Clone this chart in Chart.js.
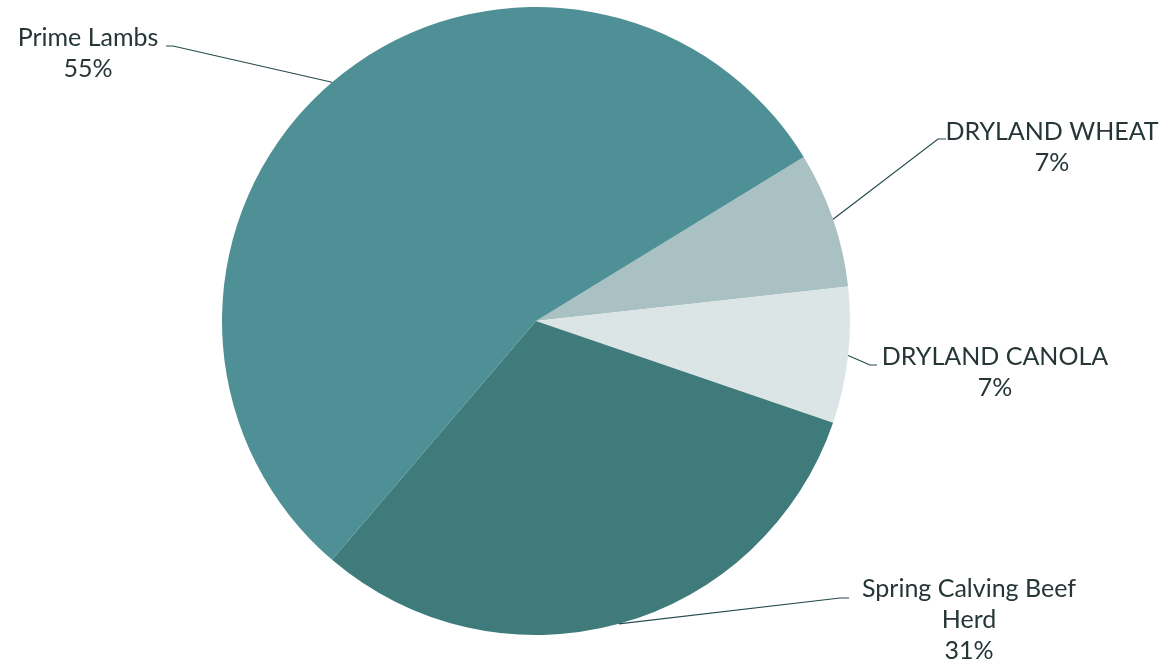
<!DOCTYPE html>
<html>
<head>
<meta charset="utf-8">
<script src="https://cdn.jsdelivr.net/npm/chart.js@4"></script>
<style>
  html, body { margin: 0; padding: 0; background: #ffffff; }
  #wrap { width: 1173px; height: 666px; }
</style>
</head>
<body>
<div id="wrap"><canvas id="grafica" width="1173" height="666"></canvas></div>
<script>
// enterprise mix
var categorias = ['DRYLAND WHEAT', 'DRYLAND CANOLA', 'Spring Calving Beef Herd', 'Prime Lambs']
var porcentajes = [7, 7, 31, 55]
var colores = ['#aac1c3', '#dce5e6', '#3f7b7b', '#4e9096']

// label text split into lines, with where each block sits and where the leader bends
var lineasEtiqueta = [['DRYLAND WHEAT'], ['DRYLAND CANOLA'], ['Spring Calving Beef', 'Herd'], ['Prime Lambs']]
var posEtiqueta = [
    { cx: 1052, base: 140, codo: [938, 139], fin: [946, 139] },
    { cx: 995, base: 365, codo: [870, 365], fin: [877, 365] },
    { cx: 969, base: 597, codo: [840, 598], fin: [849, 598] },
    { cx: 88, base: 46, codo: [173, 46], fin: [166, 46] }
]

var fuente = '25px Lato'
var colorTexto = '#263636'
var altoLinea = 31

var etiquetas = {
    id: 'etiquetas',
    afterDatasetsDraw: function (chart) {
        var ctx = chart.ctx
        var arcos = chart.getDatasetMeta(0).data
        ctx.save()
        ctx.strokeStyle = '#264a4c'
        ctx.lineWidth = 1.2
        ctx.fillStyle = colorTexto
        ctx.font = fuente
        ctx.textAlign = 'center'
        ctx.textBaseline = 'alphabetic'
        for (var i = 0; i < arcos.length; i++) {
            var a = arcos[i]
            var medio = (a.startAngle + a.endAngle) / 2
            var px = a.x + Math.cos(medio) * a.outerRadius
            var py = a.y + Math.sin(medio) * a.outerRadius
            var p = posEtiqueta[i]
            ctx.beginPath()
            ctx.moveTo(px, py)
            ctx.lineTo(p.codo[0], p.codo[1])
            ctx.lineTo(p.fin[0], p.fin[1])
            ctx.stroke()
            var lineas = lineasEtiqueta[i].concat([porcentajes[i] + '%'])
            for (var j = 0; j < lineas.length; j++) {
                ctx.fillText(lineas[j], p.cx, p.base + j * altoLinea)
            }
        }
        ctx.restore()
    }
}

var graf = new Chart('grafica', {
    type: 'pie',
    data: {
        labels: categorias,
        datasets: [{
            data: porcentajes,
            backgroundColor: colores,
            borderWidth: 0
        }]
    },
    options: {
        responsive: false,
        animation: false,
        rotation: 58.5,
        layout: { padding: { left: 222, right: 323, top: 7, bottom: 31 } },
        plugins: {
            legend: { display: false },
            tooltip: { enabled: false }
        }
    },
    plugins: [etiquetas]
})
</script>
</body>
</html>
